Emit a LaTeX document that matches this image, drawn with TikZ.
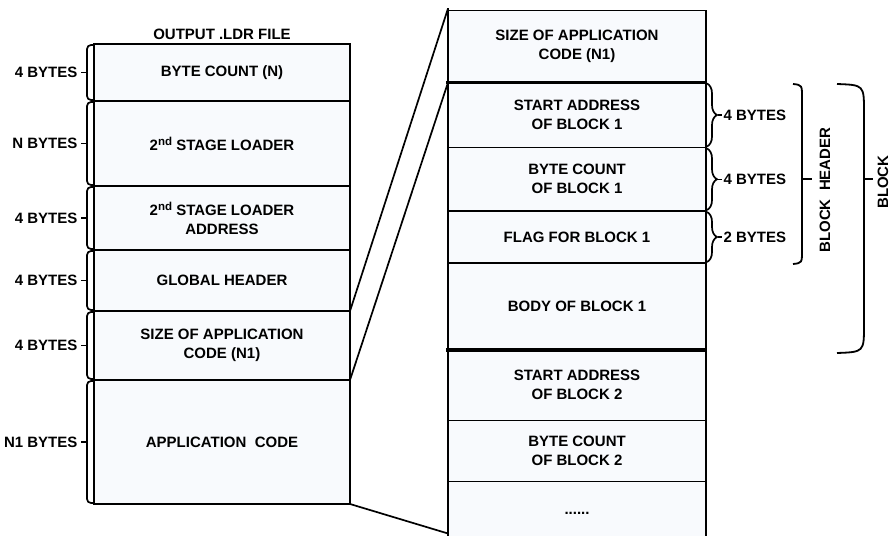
\documentclass[tikz,border=0pt]{standalone}
\usepackage{fontspec}
\setmainfont{Liberation Sans}
\usetikzlibrary{positioning,calc,decorations.pathreplacing}
\definecolor{cellfill}{RGB}{248,250,253}
\newcommand{\lbl}{\fontsize{15}{19}\selectfont\bfseries}
\newcommand{\ndsup}{\raisebox{5pt}{\fontsize{11.5}{11.5}\selectfont nd}}

\begin{document}
\begin{tikzpicture}[x=1pt,y=-1pt,
  cell/.style={draw,line width=1.8pt,fill=cellfill,inner sep=0pt,outer sep=0pt,align=center,font=\lbl},
  lcell/.style={cell,minimum width=256pt,minimum height=#1},
  rcell/.style={cell,minimum width=258pt,minimum height=#1},
  bracket/.style={line width=1.7pt,rounded corners=4pt},
  sbrace/.style={line width=1.7pt,decorate,decoration={brace,amplitude=10pt}},
  bbrack/.style={line width=1.8pt},
  sepline/.style={line width=3.4pt},
  tag/.style={font=\lbl,inner sep=0pt}]
\useasboundingbox (0,0) rectangle (890,535);
\clip (0,0) rectangle (890,535);

% output file
\node [lcell=57pt,anchor=north] (lcount) at (222,44) {BYTE COUNT (N)};
\node [lcell=85pt,below=0pt of lcount] (lloader) {2\ndsup{} STAGE LOADER};
\node [lcell=64pt,below=0pt of lloader] (laddr) {2\ndsup{} STAGE LOADER\\ADDRESS};
\node [lcell=61pt,below=0pt of laddr] (lheader) {GLOBAL HEADER};
\node [lcell=69pt,below=0pt of lheader] (lsize) {SIZE OF APPLICATION\\CODE (N1)};
\node [lcell=124pt,below=0pt of lsize] (lcode) {APPLICATION\ \ CODE};
\node [tag,above=4pt of lcount] (ltitle) {OUTPUT .LDR FILE};

\foreach \n/\t in {lcount/4 BYTES,lloader/N BYTES,laddr/4 BYTES,lheader/4 BYTES,lsize/4 BYTES,lcode/N1 BYTES} {
  \draw [bracket] ($(\n.north west)+(0,1)$) -| ($(\n.south west)+(-7,-1)$) -- ($(\n.south west)+(0,-1)$);
  \draw [line width=1.2pt] ($(\n.west)+(-7,0)$) -- ++(-6,0) node [tag,anchor=east,xshift=-3pt] (b\n) {\t};
}

% application code
\node [rcell=72pt,anchor=north] (rsize) at (577,10.5) {SIZE OF APPLICATION\\CODE (N1)};
\node [rcell=65pt,below=0pt of rsize] (rstart1) {START ADDRESS\\OF BLOCK 1};
\node [rcell=63.5pt,below=0pt of rstart1] (rcount1) {BYTE COUNT\\OF BLOCK 1};
\node [rcell=52pt,below=0pt of rcount1] (rflag1) {FLAG FOR BLOCK 1};
\node [rcell=87pt,below=0pt of rflag1] (rbody1) {BODY OF BLOCK 1};
\node [rcell=70.5pt,below=0pt of rbody1] (rstart2) {START ADDRESS\\OF BLOCK 2};
\node [rcell=61pt,below=0pt of rstart2] (rcount2) {BYTE COUNT\\OF BLOCK 2};
\node [rcell=64pt,below=0pt of rcount2] (rmore) {......};

\draw [sepline] ([xshift=-2pt]rsize.south west) -- (rsize.south east);
\draw [sepline] ([xshift=-2pt]rbody1.south west) -- (rbody1.south east);
\draw [line width=2.2pt] ($(rsize.north west)+(0,-2)$) -- (rmore.south west);

\coordinate (zoomtop) at ($(rsize.north west)+(0,-2)$);
\coordinate (zoombot) at ($(rmore.south west)+(0,-12)$);
\draw [line width=1.7pt] (lsize.north east) -- (zoomtop);
\draw [line width=1.7pt] (lsize.south east) -- (rstart1.north west);
\draw [line width=1.7pt] (lcode.south east) -- (zoombot);

\foreach \n/\t in {rstart1/4 BYTES,rcount1/4 BYTES,rflag1/2 BYTES} {
  \draw [sbrace] ($(\n.north east)+(1,1)$) -- ($(\n.south east)+(1,-1)$);
  \draw [line width=1.2pt] ($(\n.east)+(12,0)$) -- ++(4,0) node [tag,anchor=west,xshift=1pt] (b\n) {\t};
}

% block header and block
\draw [bbrack] (793,84) .. controls (802,85) .. (802,98) -- (802,250) .. controls (802,263) .. (793,264);
\draw [bbrack] (802,179) -- (812,179);
\node [tag,rotate=90] (bhdr) at (825,190) {BLOCK\ \ HEADER};
\draw [bbrack] (837,84) .. controls (864,85) .. (864,112) -- (864,325) .. controls (864,352) .. (837,353);
\draw [bbrack] (864,179) -- (873,179);
\node [tag,rotate=90] (bblock) at (883,182) {BLOCK};
\end{tikzpicture}
\end{document}
